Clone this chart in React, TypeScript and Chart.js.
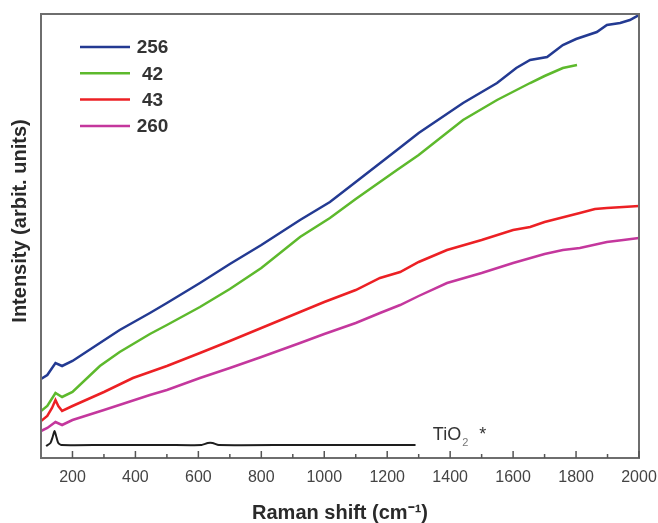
import { useEffect, useRef } from 'react'
import { Chart, registerables } from 'chart.js'
import type { Plugin } from 'chart.js'

Chart.register(...registerables)

const FONT = "'Liberation Sans', Arial, Helvetica, sans-serif"

// Sample names shown in the legend and their line colours
const sampleNames = ['256', '42', '43', '260']
const sampleColors = ['#233a92', '#5db92c', '#ec2024', '#c4379d']

// Raman shift (cm-1) / intensity (arbitrary units)
const shift256 = [100, 120, 146, 167, 200, 287, 350, 446, 500, 605, 700, 800, 923, 1018, 1100, 1231, 1300, 1441, 1549, 1610, 1654, 1708, 1758, 1800, 1866, 1898, 1940, 1971, 2000]
const intensity256 = [79, 83, 95, 92, 97, 115, 128, 145, 155, 175, 194, 213, 238, 256, 276, 308, 325, 355, 375, 390, 398, 401, 413, 419, 426, 433, 435, 438, 443]

const shift42 = [100, 120, 146, 167, 200, 287, 350, 446, 500, 605, 700, 800, 923, 1018, 1100, 1231, 1300, 1441, 1549, 1654, 1700, 1758, 1803]
const intensity42 = [47, 52, 65, 61, 66, 92, 106, 124, 133, 151, 169, 190, 221, 240, 259, 288, 303, 338, 358, 375, 382, 390, 393]

const shift43 = [100, 120, 135, 146, 155, 167, 200, 300, 392, 446, 500, 605, 700, 800, 923, 1000, 1100, 1177, 1241, 1300, 1390, 1500, 1600, 1654, 1700, 1812, 1860, 1898, 1950, 2000]
const intensity43 = [37, 42, 50, 58, 52, 47, 52, 66, 80, 86, 92, 105, 117, 130, 146, 156, 168, 180, 186, 196, 208, 218, 228, 231, 236, 245, 249, 250, 251, 252]

const shift260 = [100, 120, 146, 167, 200, 300, 446, 500, 605, 700, 800, 923, 1000, 1100, 1177, 1241, 1300, 1390, 1500, 1600, 1700, 1758, 1812, 1898, 1950, 2000]
const intensity260 = [27, 30, 36, 33, 38, 48, 63, 68, 80, 90, 101, 115, 124, 135, 145, 153, 162, 175, 185, 195, 204, 208, 210, 216, 218, 220]

// TiO2 reference spectrum
const shiftTiO2 = [116, 130, 137, 143, 148, 155, 165, 300, 500, 610, 630, 645, 665, 900, 1290]
const intensityTiO2 = [12, 15, 21, 27, 22, 15, 13, 13, 13, 13, 15, 15, 13, 13, 13]

const xMajorTicks = [200, 400, 600, 800, 1000, 1200, 1400, 1600, 1800, 2000]
const xMinorTicks = [300, 500, 700, 900, 1100, 1300, 1500, 1700, 1900]

const yTitle = 'Intensity (arbit. units)'

const toPoints = (xs: number[], ys: number[]) => xs.map((x, i) => ({ x, y: ys[i] }))

const sampleSeries = [
  toPoints(shift256, intensity256),
  toPoints(shift42, intensity42),
  toPoints(shift43, intensity43),
  toPoints(shift260, intensity260),
]

// frame, inward ticks, legend, y title and the TiO2 label
const decorations: Plugin<'line'> = {
  id: 'decorations',
  afterDraw(chart) {
    const { ctx, chartArea } = chart
    const { left, right, top, bottom } = chartArea
    const xScale = chart.scales.x
    const yScale = chart.scales.y
    ctx.save()

    // box
    ctx.strokeStyle = '#6e6e6e'
    ctx.lineWidth = 2
    ctx.strokeRect(left, top, right - left, bottom - top)

    // inward ticks on the bottom axis
    ctx.strokeStyle = '#555'
    ctx.lineWidth = 1.5
    const tick = (v: number, len: number) => {
      const px = xScale.getPixelForValue(v)
      ctx.beginPath()
      ctx.moveTo(px, bottom)
      ctx.lineTo(px, bottom - len)
      ctx.stroke()
    }
    xMajorTicks.forEach(v => tick(v, 7))
    xMinorTicks.forEach(v => tick(v, 4))

    // legend
    ctx.font = `bold 19px ${FONT}`
    ctx.textAlign = 'center'
    ctx.textBaseline = 'middle'
    sampleNames.forEach((name, i) => {
      const y = 47 + i * 26.3
      ctx.strokeStyle = sampleColors[i]
      ctx.lineWidth = 2.5
      ctx.beginPath()
      ctx.moveTo(80, y)
      ctx.lineTo(130, y)
      ctx.stroke()
      ctx.fillStyle = '#333'
      ctx.fillText(name, 152.5, y + 1)
    })

    // y axis title, a little above the middle as in the source
    ctx.save()
    ctx.translate(20, 221)
    ctx.rotate(-Math.PI / 2)
    ctx.font = `bold 20px ${FONT}`
    ctx.fillStyle = '#2a2a2a'
    ctx.fillText(yTitle, 0, 0)
    ctx.restore()

    // TiO2 * label
    const lx = xScale.getPixelForValue(1345)
    const ly = yScale.getPixelForValue(18)
    ctx.textAlign = 'left'
    ctx.textBaseline = 'alphabetic'
    ctx.fillStyle = '#333'
    ctx.font = `18px ${FONT}`
    ctx.fillText('TiO', lx, ly)
    const w = ctx.measureText('TiO').width
    ctx.fillStyle = '#777'
    ctx.font = `11px ${FONT}`
    ctx.fillText('2', lx + w + 1, ly + 6)
    ctx.fillStyle = '#333'
    ctx.font = `18px ${FONT}`
    ctx.fillText('*', lx + w + 18, ly)

    ctx.restore()
  },
}

export default function App() {
  const canvasRef = useRef<HTMLCanvasElement>(null)
  const chartRef = useRef<Chart<'line'> | null>(null)

  useEffect(() => {
    if (!canvasRef.current) return
    if (chartRef.current) chartRef.current.destroy()

    const datasets: any[] = sampleSeries.map((data, i) => ({
      label: sampleNames[i],
      data,
      borderColor: sampleColors[i],
      borderWidth: 2.5,
      pointRadius: 0,
      tension: 0,
    }))
    datasets.push({
      label: 'TiO2',
      data: toPoints(shiftTiO2, intensityTiO2),
      borderColor: '#1e1e1e',
      borderWidth: 2,
      pointRadius: 0,
      tension: 0.2,
    })

    chartRef.current = new Chart(canvasRef.current, {
      type: 'line',
      data: { datasets },
      options: {
        responsive: true,
        maintainAspectRatio: false,
        animation: false,
        layout: { padding: { top: 14, right: 19, left: 0, bottom: 0 } },
        plugins: {
          legend: { display: false },
          tooltip: { enabled: false },
        },
        scales: {
          x: {
            type: 'linear',
            min: 100,
            max: 2000,
            afterBuildTicks: (s: any) => {
              s.ticks = xMajorTicks.map(v => ({ value: v }))
            },
            afterFit: (s: any) => {
              s.height = 65
              s.paddingLeft = 0
              s.paddingRight = 0
            },
            grid: { display: false, drawTicks: false },
            border: { display: false },
            ticks: {
              color: '#444',
              font: { family: FONT, size: 16 },
              padding: 10,
              maxRotation: 0,
              autoSkip: false,
              callback: (v: any) => String(v),
            },
            title: {
              display: true,
              text: 'Raman shift (cm⁻¹)',
              color: '#2a2a2a',
              font: { family: FONT, size: 20, weight: 'bold', lineHeight: 1 },
              padding: { top: 0, bottom: 0 },
            },
          },
          y: {
            min: 0,
            max: 444,
            afterFit: (s: any) => {
              s.width = 41
            },
            grid: { display: false, drawTicks: false },
            border: { display: false },
            ticks: { display: false },
            title: { display: false },
          },
        },
      },
      plugins: [decorations],
    })

    return () => {
      if (chartRef.current) {
        chartRef.current.destroy()
        chartRef.current = null
      }
    }
  }, [])

  return (
    <div style={{ position: 'absolute', left: 0, top: 0, width: 658, height: 523, background: '#fff' }}>
      <canvas ref={canvasRef}></canvas>
    </div>
  )
}
